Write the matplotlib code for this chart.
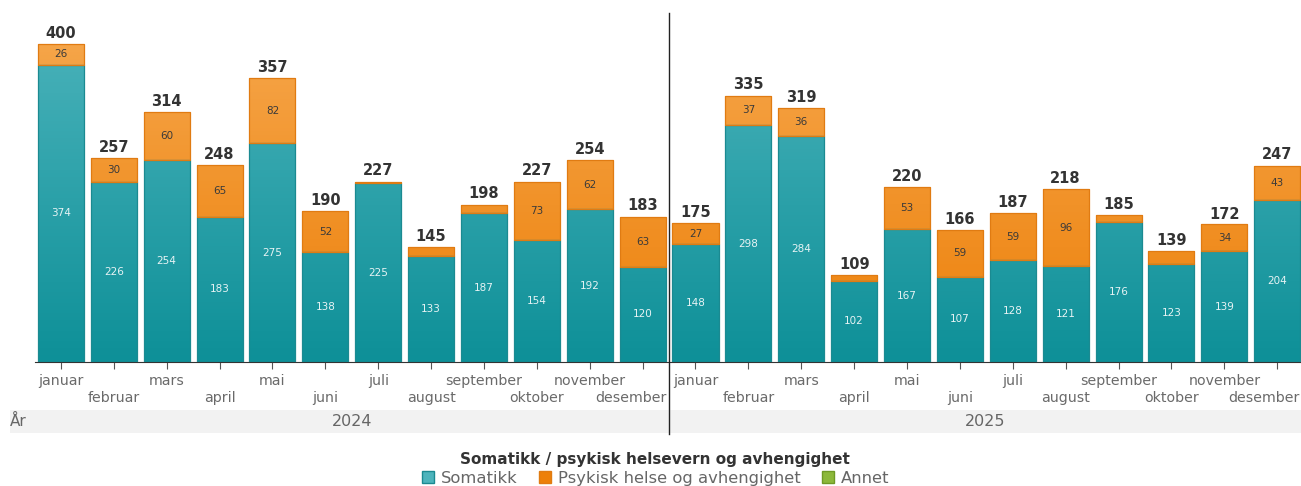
import numpy as np
import matplotlib
matplotlib.use("Agg")
import matplotlib.pyplot as plt
from matplotlib.patches import Patch, Rectangle
from matplotlib.colors import LinearSegmentedColormap

plt.rcParams['font.family'] = ['DejaVu Sans']

# data
months = ["januar", "februar", "mars", "april", "mai", "juni", "juli",
          "august", "september", "oktober", "november", "desember"]
years = ["2024", "2025"]
somatikk = [374, 226, 254, 183, 275, 138, 225, 133, 187, 154, 192, 120,
            148, 298, 284, 102, 167, 107, 128, 121, 176, 123, 139, 204]
psykisk = [26, 30, 60, 65, 82, 52, 2, 12, 11, 73, 62, 63,
           27, 37, 36, 7, 53, 59, 59, 96, 9, 16, 34, 43]
totals = [400, 257, 314, 248, 357, 190, 227, 145, 198, 227, 254, 183,
          175, 335, 319, 109, 220, 166, 187, 218, 185, 139, 172, 247]

teal_top, teal_bot, teal_edge = "#4db4bc", "#0e9098", "#1b8a91"
orng_top, orng_bot, orng_edge = "#f6a84e", "#ed8009", "#e07b12"
green = "#8cb83a"

W, H = 1301, 486
fig = plt.figure(figsize=(W / 100, H / 100), dpi=100)
ax = fig.add_axes([35 / W, 1 - 362 / H, (W - 35) / W, (362 - 13) / H])

x = np.arange(len(somatikk))
width = 0.87
ymax = 439

def grad_bar(xc, bottom, height, c_top, c_bot, c_edge):
    r = Rectangle((xc - width / 2, bottom), width, height, facecolor="none",
                  edgecolor=c_edge, linewidth=0.9, zorder=3)
    ax.add_patch(r)
    cmap = LinearSegmentedColormap.from_list("g", [c_bot, c_top])
    im = ax.imshow(np.linspace(0, 1, 100).reshape(-1, 1), cmap=cmap, aspect="auto",
                   origin="lower", extent=[xc - width / 2, xc + width / 2, 0, ymax],
                   zorder=2)
    im.set_clip_path(r)

for i in x:
    grad_bar(i, 0, somatikk[i], teal_top, teal_bot, teal_edge)
    grad_bar(i, somatikk[i], psykisk[i], orng_top, orng_bot, orng_edge)
    ax.text(i, somatikk[i] / 2, str(somatikk[i]), ha="center", va="center",
            fontsize=7.5, color="#e6f3f4", zorder=4)
    if psykisk[i] >= 20:
        ax.text(i, somatikk[i] + psykisk[i] / 2, str(psykisk[i]), ha="center",
                va="center", fontsize=7.5, color="#3a3a3a", zorder=4)
    ax.text(i, totals[i] + 4, str(totals[i]), ha="center", va="bottom",
            fontsize=10.5, fontweight="bold", color="#333333")

ax.set_xlim(-0.49, 23.45)
ax.set_ylim(0, ymax)
for s in ["top", "right", "left"]:
    ax.spines[s].set_visible(False)
ax.spines["bottom"].set_color("#333333")
ax.set_yticks([])
ax.set_xticks(x)
ax.set_xticklabels([])
ax.tick_params(axis="x", length=5, color="#555555")

# month labels, alternating rows; december kept inside its year group
xt = ax.get_xaxis_transform()
for i in x:
    m = months[i % 12]
    yy = -0.055 if i % 2 == 0 else -0.104
    ha, xx = "center", i
    if i == 11:
        ha, xx = "right", 11.46
    elif i == 23:
        ha, xx = "right", 23.43
    ax.text(xx, yy, m, transform=xt, ha=ha, va="center", fontsize=10.2,
            color="#6a6a6a", clip_on=False)

# year separator
ax.plot([11.5, 11.5], [-0.205, 1], color="#222222", lw=1,
        transform=xt, clip_on=False, zorder=5)

# year band
fig.add_artist(Rectangle((10 / W, 1 - 433 / H), (W - 10) / W, 23 / H,
                         transform=fig.transFigure, facecolor="#f2f2f2",
                         edgecolor="none", zorder=0))
fig.text(10 / W, 1 - 421 / H, "År", fontsize=11, color="#666666", va="center")
for k, yr in enumerate(years):
    xc = (-0.49 + 11.5) / 2 if k == 0 else (11.5 + 23.45) / 2
    ax.text(xc, -0.17, yr, transform=xt, ha="center", va="center",
            fontsize=11.5, color="#666666")

fig.text(655 / W, 1 - 459 / H, "Somatikk / psykisk helsevern og avhengighet",
         ha="center", va="center", fontsize=11, fontweight="bold", color="#333333")
handles = [Patch(facecolor=teal_top, edgecolor=teal_edge),
           Patch(facecolor=orng_bot, edgecolor=orng_edge),
           Patch(facecolor=green, edgecolor="#6f9a25")]
leg = fig.legend(handles, ["Somatikk", "Psykisk helse og avhengighet", "Annet"],
                 ncol=3, loc="center", bbox_to_anchor=(656 / W, 1 - 478 / H),
                 frameon=False, fontsize=11.8, handlelength=0.7, handleheight=0.7,
                 handletextpad=0.45, columnspacing=1.3, borderpad=0)
for t in leg.get_texts():
    t.set_color("#666666")

fig.savefig("out.png", dpi=100)
